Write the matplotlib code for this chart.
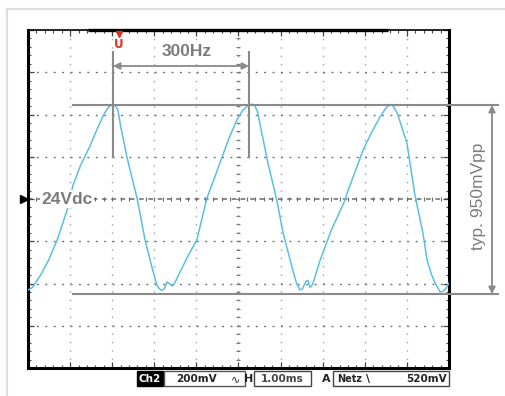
import numpy as np
import matplotlib
matplotlib.use("Agg")
import matplotlib.pyplot as plt
from matplotlib.patches import Rectangle
from matplotlib.lines import Line2D

# ---------------- data ----------------
# time in ms, ripple voltage in mV relative to 24 Vdc
t_ms = [0.00, 0.10, 0.30, 0.50, 0.70, 0.93, 1.07, 1.25, 1.47, 1.65, 1.80, 1.90, 1.97, 2.02,
        2.08, 2.14, 2.20, 2.35, 2.47, 2.59, 2.78, 2.95, 3.06, 3.12, 3.18, 3.24, 3.30, 3.36,
        3.42, 3.48, 3.61, 3.80, 4.01, 4.25, 4.43, 4.61, 4.78, 4.96, 5.10, 5.20, 5.28, 5.33,
        5.39, 5.45, 5.52, 5.70, 5.87, 5.91, 6.06, 6.27, 6.38, 6.46, 6.52, 6.60, 6.65, 6.70,
        6.76, 6.94, 7.20, 7.53, 7.58, 7.96, 8.16, 8.36, 8.50, 8.57, 8.62, 8.68, 8.77, 8.88,
        9.00, 9.19, 9.38, 9.48, 9.58, 9.67, 9.79, 9.85, 9.92, 10.00]
v_mv = [-431, -420, -360, -285, -190, -52, 66, 160, 250, 335, 400, 432, 443, 447,
        440, 418, 345, 199, 100, 5, -194, -327, -407, -425, -433, -425, -393, -400,
        -412, -400, -346, -270, -194, 5, 100, 199, 290, 374, 420, 438, 447, 448,
        440, 415, 345, 170, 28, -5, -161, -322, -400, -431, -425, -390, -386, -418,
        -405, -289, -150, -5, 28, 232, 315, 388, 430, 443, 447, 438, 407, 340,
        265, 20, -161, -289, -355, -398, -440, -438, -425, -398]

time_div_ms = 1.0      # H 1.00ms
volt_div_mv = 200.0    # 200mV
n_xdiv, n_ydiv = 10, 8
peak_mv, trough_mv = 445, -450
freq_label = "300Hz"
dc_label = "24Vdc"
pp_label = "typ. 950mVpp"
status_labels = ["Ch2", "200mV", "H", "1.00ms", "A", "Netz", "520mV"]

# ---------------- figure ----------------
W, H = 506, 396
fig = plt.figure(figsize=(W / 100, H / 100), dpi=100)
fig.patch.set_facecolor("white")

def fx(x):
    return x / W

def fy(y):
    return 1 - y / H

L, R, T, B = 28, 449, 30, 368
ax = fig.add_axes([fx(L), fy(B), fx(R) - fx(L), fy(T) - fy(B)])
xmax = n_xdiv * time_div_ms
ymax = n_ydiv / 2 * volt_div_mv
ax.set_xlim(0, xmax)
ax.set_ylim(-ymax, ymax)

# outer light frame
fig.add_artist(Line2D([fx(7), fx(7)], [fy(9), fy(396)], color="#dedede", lw=1.6))
fig.add_artist(Line2D([fx(7), fx(506)], [fy(9), fy(9)], color="#dedede", lw=1.6))

# grid
xmaj = np.arange(1, n_xdiv) * time_div_ms
ymaj = np.arange(-n_ydiv / 2 + 1, n_ydiv / 2) * volt_div_mv
for x in xmaj:
    if abs(x - xmax / 2) < 1e-6:
        continue
    ax.axvline(x, color="#a0a0a0", lw=1.0, ls=(0, (1, 5.06)), zorder=1)
for y in ymaj:
    if abs(y) < 1e-6:
        continue
    ax.axhline(y, color="#707070", lw=1.0, ls=(0, (1.4, 4.66)), zorder=1)

# center cross lines with minor ticks
ax.axhline(0, color="#6a6a6a", lw=1.1, ls=(0, (3, 3.06)), zorder=1)
ax.axvline(xmax / 2, color="#8a8a8a", lw=1.0, ls=(0, (1.2, 4.86)), zorder=1)
mx = np.arange(0.2, xmax, 0.2 * time_div_ms)
my = np.arange(-ymax + 40, ymax, 0.2 * volt_div_mv)
ax.plot(mx, np.zeros_like(mx), ls="none", marker="|", ms=3.5, mew=0.8, color="#6a6a6a", zorder=1)
ax.plot(np.full_like(my, xmax / 2), my, ls="none", marker="_", ms=3.5, mew=0.8, color="#7a7a7a", zorder=1)

# frame ticks
ax.set_xticks(np.arange(0, xmax + 0.01, time_div_ms))
ax.set_yticks(np.arange(-ymax, ymax + 1, volt_div_mv))
ax.set_xticks(mx, minor=True)
ax.set_yticks(my, minor=True)
ax.tick_params(which="both", direction="in", top=True, right=True, labelbottom=False,
               labelleft=False, color="#444444")
ax.tick_params(which="major", length=4, width=0.9)
ax.tick_params(which="minor", length=2.5, width=0.8)
for s in ax.spines.values():
    s.set_color("black")
    s.set_linewidth(2.2)
ax.spines["top"].set_linewidth(1.2)
ax.plot([1.42, 8.55], [ymax, ymax], color="black", lw=2.4, clip_on=False, zorder=5,
        solid_capstyle="butt")

# trace
ax.plot(t_ms, v_mv, color="#5cbfe2", lw=1.1, zorder=3)

gray = "#8a8a8a"
tgray = "#7c7c7c"

def px2t(x):
    return (x - L) / (R - L) * xmax

def py2v(y):
    return ((B + T) / 2 - y) / (B - T) * 2 * ymax

# peak / trough level lines
for lvl in (peak_mv, trough_mv):
    ax.plot([px2t(73), px2t(498)], [lvl, lvl], color=gray, lw=1.5, clip_on=False, zorder=4)

# period markers
for xp in (113, 249):
    ax.plot([px2t(xp), px2t(xp)], [py2v(52), py2v(157)], color=gray, lw=1.5,
            clip_on=False, zorder=4)
ax.annotate("", xy=(px2t(113), py2v(66)), xytext=(px2t(249), py2v(66)),
            arrowprops=dict(arrowstyle="<|-|>", color=gray, lw=1.3, mutation_scale=10,
                            shrinkA=0, shrinkB=0), zorder=4)
ax.text(px2t(187), py2v(52), freq_label, ha="center", va="center", fontsize=12.5,
        family="Liberation Sans", color=tgray, fontweight="bold", zorder=6,
        bbox=dict(facecolor="white", edgecolor="none", pad=0.5))

# peak-to-peak arrow
ax.annotate("", xy=(px2t(492), peak_mv), xytext=(px2t(492), trough_mv),
            arrowprops=dict(arrowstyle="<|-|>", color=gray, lw=1.3, mutation_scale=10,
                            shrinkA=0, shrinkB=0), annotation_clip=False, zorder=4)
ax.text(px2t(478), py2v(196), pp_label, ha="center", va="center", rotation=90,
        fontsize=12.5, family="Liberation Sans", color=tgray, clip_on=False)

# 24Vdc label
ax.text(px2t(41), 0, dc_label, ha="left", va="center", fontsize=12.5,
        family="Liberation Sans", color=tgray, fontweight="bold", zorder=6,
        bbox=dict(facecolor="white", edgecolor="none", pad=1.0))

# ground marker on left
ax.plot([px2t(24)], [0], marker=">", ms=6, color="black", clip_on=False, zorder=6)

# trigger marker (red)
ax.plot([px2t(119)], [py2v(34)], marker="v", ms=4.5, color="#e03020", clip_on=False, zorder=6)
ax.text(px2t(119), py2v(44), "U", ha="center", va="center", fontsize=8.5,
        fontweight="bold", color="#e03020", family="DejaVu Sans", zorder=6)

# ---------------- status bar ----------------
def box(x0, x1, y0, y1, fc, ec):
    fig.add_artist(Rectangle((fx(x0), fy(y1)), fx(x1) - fx(x0), fy(y0) - fy(y1),
                             facecolor=fc, edgecolor=ec, lw=1.0))

def ftxt(x, y, s, ha="left", color="#222222", size=7.5, weight="bold", fam="DejaVu Sans"):
    fig.text(fx(x), fy(y), s, ha=ha, va="center", color=color, fontsize=size,
             fontweight=weight, family=fam)

box(137, 163, 371, 386, "black", "black")
ftxt(150, 379, status_labels[0], ha="center", color="white", size=7.5)
box(164, 245, 371, 386, "white", "#555555")
ftxt(176, 379, status_labels[1])
ftxt(231, 379, "∿", size=8, weight="normal")
ftxt(249, 379, status_labels[2], ha="center", size=8)
box(254, 311, 371, 386, "white", "#444444")
ftxt(282.5, 379, status_labels[3], ha="center", color="#444444")
ftxt(326, 379, status_labels[4], ha="center", size=8)
box(333, 449, 371, 386, "white", "#444444")
ftxt(337, 379, status_labels[5], size=7)
ftxt(366, 379, "\\", size=8)
ftxt(447, 379, status_labels[6], ha="right")

fig.savefig("out.png", dpi=100, facecolor="white")
